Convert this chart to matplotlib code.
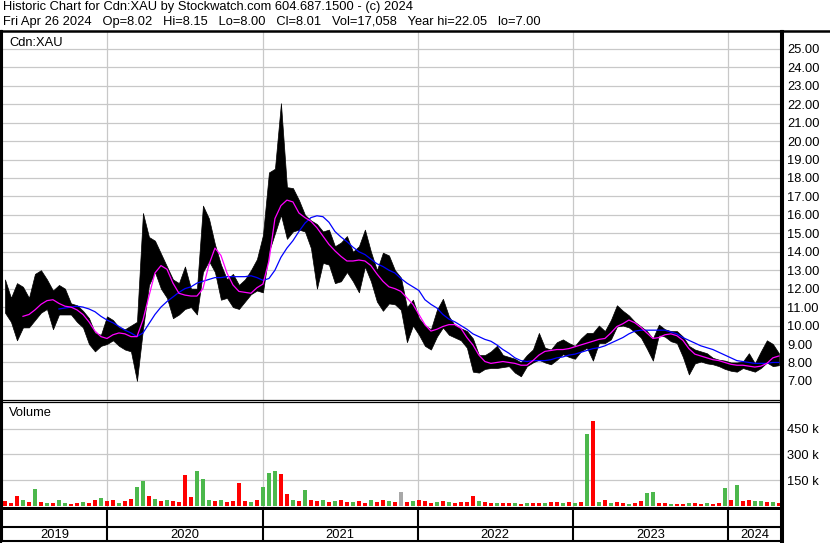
import matplotlib
matplotlib.use("Agg")
import matplotlib.pyplot as plt
from matplotlib.lines import Line2D
import numpy as np
import pandas as pd

plt.rcParams["font.family"] = ["Liberation Sans", "DejaVu Sans"]

TITLE = "Historic Chart for Cdn:XAU by Stockwatch.com 604.687.1500 - (c) 2024"
QUOTE = "Fri Apr 26 2024   Op=8.02   Hi=8.15   Lo=8.00   Cl=8.01   Vol=17,058   Year hi=22.05   lo=7.00"
SYMBOL = "Cdn:XAU"

FIRST_BAR = "2019-05-06"
LAST_BAR = "2024-04-30"
X_START = "2019-04-29"
X_END = "2024-05-05"

# biweekly high / low
high = [
    12.5, 11.5, 12.3, 12.1, 11.5, 12.8, 13.0, 12.5, 11.9, 12.2,
    12.0, 11.2, 11.1, 10.8, 10.4, 9.6, 9.5, 10.5, 10.3, 9.9,
    9.8, 10.0, 10.2, 16.1, 14.8, 14.6, 13.9, 13.2, 12.5, 12.3,
    13.2, 12.0, 12.0, 16.5, 15.8, 14.4, 13.3, 12.5, 12.8, 12.2,
    12.5, 13.0, 13.6, 14.9, 18.3, 18.5, 22.05, 17.5, 17.45, 16.8,
    16.0, 15.7, 15.5, 15.1, 15.2, 14.3, 14.5, 14.85, 14.0, 14.3,
    15.2, 14.0, 13.0, 13.95, 13.8, 13.0, 12.6, 11.0, 11.4, 10.4,
    10.0, 9.8, 10.85, 11.45, 10.5, 10.0, 9.85, 9.7, 9.3, 8.4,
    8.4, 8.6, 8.9, 8.4, 8.3, 8.2, 8.0, 8.4, 8.7, 9.6,
    8.8, 8.7, 9.1, 9.25, 9.05, 8.9, 9.3, 9.6, 9.6, 10.0,
    9.7, 10.3, 11.1, 10.8, 10.55, 10.2, 9.95, 9.7, 9.3, 10.05,
    9.8, 9.7, 9.7, 9.4, 8.9, 8.7, 8.6, 8.5, 8.25, 8.15,
    8.1, 8.0, 8.0, 8.05, 8.5, 7.95, 8.6, 9.2, 9.0, 8.5,
]
low = [
    10.7, 10.2, 9.2, 9.9, 9.9, 10.3, 10.7, 10.9, 9.8, 10.6,
    10.6, 10.6, 10.2, 9.9, 9.0, 8.6, 8.9, 9.0, 9.2, 8.9,
    8.7, 8.6, 7.0, 9.8, 12.2, 12.9, 12.0, 11.5, 10.4, 10.6,
    10.9, 11.0, 10.6, 12.9, 13.5, 12.9, 11.4, 11.5, 11.0, 10.9,
    11.3, 11.7, 11.9, 11.8, 14.0, 15.0, 16.0, 14.7, 15.1, 15.2,
    15.1, 14.2, 12.0, 13.4, 13.3, 12.3, 12.4, 12.9, 12.4, 11.8,
    13.2, 12.4, 11.3, 10.8, 11.2, 11.15, 10.85, 9.1, 10.0, 9.5,
    8.9, 8.7, 9.4, 9.9, 9.5, 9.35, 9.2, 8.8, 7.5, 7.45,
    7.65, 7.7, 7.7, 7.75, 7.8, 7.45, 7.25, 7.8, 8.0, 8.15,
    8.0, 7.9, 8.15, 8.45, 8.3, 8.2, 8.6, 8.8, 8.1, 9.05,
    9.05, 9.25, 9.95, 10.0, 9.9, 9.65, 9.35, 8.75, 8.1, 9.5,
    9.4, 9.15, 9.05, 8.3, 7.35, 7.95, 8.05, 7.95, 7.9, 7.8,
    7.65, 7.55, 7.5, 7.7, 7.6, 7.5, 7.7, 8.0, 7.8, 7.85,
]
# moving averages (magenta = short, blue = long)
ma_short = [
    None, None, None, 10.5, 10.6, 10.85, 11.15, 11.35, 11.4, 11.2,
    11.05, 11.0, 10.85, 10.6, 10.2, 9.7, 9.4, 9.3, 9.5, 9.6,
    9.55, 9.4, 9.4, 10.3, 11.6, 12.85, 13.25, 13.05, 12.3, 11.75,
    11.65, 11.6, 11.6, 12.0, 13.3, 14.2, 13.8, 12.85, 12.2, 11.85,
    11.8, 11.75, 12.05, 12.25, 13.5, 15.8, 16.5, 16.8, 16.7, 16.1,
    15.85, 15.65, 15.3, 14.85, 14.4, 14.05, 13.75, 13.5, 13.5, 13.55,
    13.5, 13.25, 12.8, 12.4, 12.1, 12.0, 11.85, 11.5, 11.15, 10.6,
    10.05, 9.7, 9.8, 9.95, 10.05, 10.05, 9.85, 9.35, 8.95, 8.4,
    8.05, 7.95, 8.0, 8.05, 8.0, 7.95, 7.85, 7.85, 8.1, 8.4,
    8.6, 8.65, 8.7, 8.7, 8.75, 8.85, 8.95, 9.05, 9.15, 9.25,
    9.3, 9.6, 9.95, 10.1, 10.3, 10.15, 9.9, 9.6, 9.3, 9.35,
    9.5, 9.55, 9.45, 9.2, 8.75, 8.45, 8.35, 8.25, 8.15, 8.1,
    8.0, 7.9, 7.85, 7.85, 7.8, 7.75, 7.8, 7.95, 8.25, 8.35,
]
ma_long = [
    None, None, None, None, None, None, None, None, None, 10.9,
    10.95, 11.0, 11.05, 11.0, 10.9, 10.75, 10.5, 10.3, 10.15, 9.95,
    9.75, 9.6, 9.4, 9.6, 10.1, 10.6, 11.0, 11.3, 11.55, 11.8,
    12.0, 12.1, 12.3, 12.4, 12.5, 12.6, 12.6, 12.65, 12.65, 12.65,
    12.65, 12.7, 12.6, 12.45, 12.55, 13.0, 13.7, 14.2, 14.6, 15.1,
    15.55, 15.85, 15.95, 15.9, 15.6, 15.1, 14.8, 14.55, 14.25, 14.0,
    13.85, 13.6, 13.35, 13.2, 13.0, 12.85, 12.55, 12.3, 12.1, 11.9,
    11.4, 11.15, 10.95, 10.6, 10.35, 10.2, 10.0, 9.8, 9.55, 9.4,
    9.25, 9.15, 8.95, 8.7, 8.5, 8.25, 8.1, 8.05, 8.1, 8.1,
    8.1, 8.15, 8.25, 8.3, 8.4, 8.45, 8.55, 8.65, 8.75, 8.8,
    8.9, 9.05, 9.2, 9.35, 9.55, 9.7, 9.75, 9.75, 9.75, 9.75,
    9.75, 9.65, 9.55, 9.35, 9.2, 9.05, 8.9, 8.8, 8.7, 8.55,
    8.4, 8.25, 8.1, 8.05, 8.0, 7.95, 7.95, 7.95, 8.0, 8.0,
]
# volume in thousands of shares
volume_k = [
    30, 20, 60, 35, 25, 100, 25, 22, 20, 38,
    18, 15, 20, 28, 22, 35, 50, 30, 35, 20,
    30, 45, 110, 145, 60, 45, 30, 35, 30, 25,
    180, 55, 205, 160, 40, 30, 35, 25, 30, 135,
    30, 25, 35, 110, 195, 205, 185, 70, 35, 30,
    95, 35, 30, 35, 25, 30, 40, 25, 25, 30,
    20, 40, 25, 35, 30, 25, 85, 25, 30, 40,
    30, 20, 25, 30, 25, 20, 25, 25, 60, 30,
    25, 22, 20, 18, 20, 18, 15, 18, 20, 22,
    20, 28, 25, 20, 25, 20, 25, 417, 495, 25,
    35, 22, 25, 20, 15, 18, 30, 75, 83, 20,
    18, 15, 15, 15, 18, 22, 15, 18, 15, 20,
    108, 35, 123, 30, 40, 30, 30, 25, 25, 20,
]
# r = down day, g = up day, n = unchanged
volume_dir = (
    "rrrgrgrgrg" "grrgrrgrrg" "rrggrgrgrr" "rrgggrgrrr" "rgrgggrrgr"
    "grrgrgrrgr" "rgrrgrnrgr" "rrgrgrrrrg" "rrgrrgrgrr" "grrgrgrgrg"
    "rgrrgrrggr" "rgrrgrrgrr" "grgrrggrgr"
)

YEARS = [2019, 2020, 2021, 2022, 2023, 2024]
PRICE_TICKS = list(range(7, 26))
VOLUME_TICKS = [150, 300, 450]

GRID = "#c8c8c8"
VOL_COLORS = {"r": "#ff0000", "g": "#4cb84c", "n": "#a8a8a8"}
FONT = 9.3

W, H = 830, 543


def box(left, top, right, bottom):
    return [left / W, 1 - bottom / H, (right - left) / W, (bottom - top) / H]


dates = pd.date_range(FIRST_BAR, LAST_BAR, periods=len(high))
ma_short = np.array(ma_short, dtype=float)
ma_long = np.array(ma_long, dtype=float)

fig = plt.figure(figsize=(W / 100, H / 100), dpi=100)
ax = fig.add_axes(box(2, 31, 781, 400))
av = fig.add_axes(box(2, 402, 781, 508), sharex=ax)
ay = fig.add_axes(box(2, 510, 781, 541), sharex=ax)

# price panel
ax.fill_between(dates, low, high, color="black", lw=0.5)
ax.plot(dates, ma_long, color="#0000ff", lw=0.9)
ax.plot(dates, ma_short, color="#ff00ff", lw=0.9)
ax.set_ylim(5.965, 25.965)
ax.set_yticks(PRICE_TICKS, labels=[f"{v:.2f}" for v in PRICE_TICKS])
ax.text(0.009, 0.985, SYMBOL, transform=ax.transAxes, ha="left", va="top", fontsize=FONT)

# volume panel
av.bar(dates, volume_k, width=11, color=[VOL_COLORS[c] for c in volume_dir], linewidth=0)
av.set_ylim(-9, 603)
av.set_yticks(VOLUME_TICKS, labels=[f"{v} k" for v in VOLUME_TICKS])
av.text(0.009, 0.95, "Volume", transform=av.transAxes, ha="left", va="top", fontsize=FONT)

year_starts = pd.to_datetime([f"{y}-01-01" for y in YEARS[1:]])
x0, x1 = pd.Timestamp(X_START), pd.Timestamp(X_END)
ax.set_xlim(x0, x1)

for a in (ax, av):
    a.set_xticks(year_starts)
    a.grid(True, color=GRID, lw=0.9)
    a.set_axisbelow(True)
    a.yaxis.tick_right()
    a.tick_params(axis="y", length=0, pad=4.5, labelsize=FONT)
    a.tick_params(axis="x", length=0, labelbottom=False)
    a.set_facecolor("white")

# year row
ay.set_ylim(0, 1)
ay.set_yticks([])
ay.tick_params(axis="x", length=0, labelbottom=False)
ay.vlines(year_starts, 0, 1, color="black", lw=1.5)
ay.axhline(14 / 31, color="black", lw=1.5)
for y in YEARS:
    a0 = max(pd.Timestamp(f"{y}-01-01"), x0)
    a1 = min(pd.Timestamp(f"{y + 1}-01-01"), x1)
    ay.text(a0 + (a1 - a0) / 2, 0.2, str(y), ha="center", va="center", fontsize=FONT)

# borders
for a in (ax, av, ay):
    for s in a.spines.values():
        s.set_color("black")
    a.spines["left"].set_linewidth(1.5)
    a.spines["right"].set_linewidth(2.2)
ax.spines["top"].set_visible(False)
ax.spines["bottom"].set_linewidth(0.9)
av.spines["top"].set_linewidth(0.9)
av.spines["bottom"].set_linewidth(2.2)
ay.spines["top"].set_visible(False)
ay.spines["bottom"].set_linewidth(1.5)

fig.add_artist(Line2D([0, 1], [1 - 31 / H] * 2, color="black", lw=1.8))
fig.add_artist(Line2D([1 / W] * 2, [0, 1 - 31 / H], color="black", lw=1.5))
fig.add_artist(Line2D([782 / W] * 2, [2 / H, 1 - 31 / H], color="black", lw=2.2))

fig.text(3 / W, 1 - 1 / H, TITLE, ha="left", va="top", fontsize=FONT)
fig.text(3 / W, 1 - 16 / H, QUOTE, ha="left", va="top", fontsize=FONT)

fig.savefig("out.png", dpi=100)
